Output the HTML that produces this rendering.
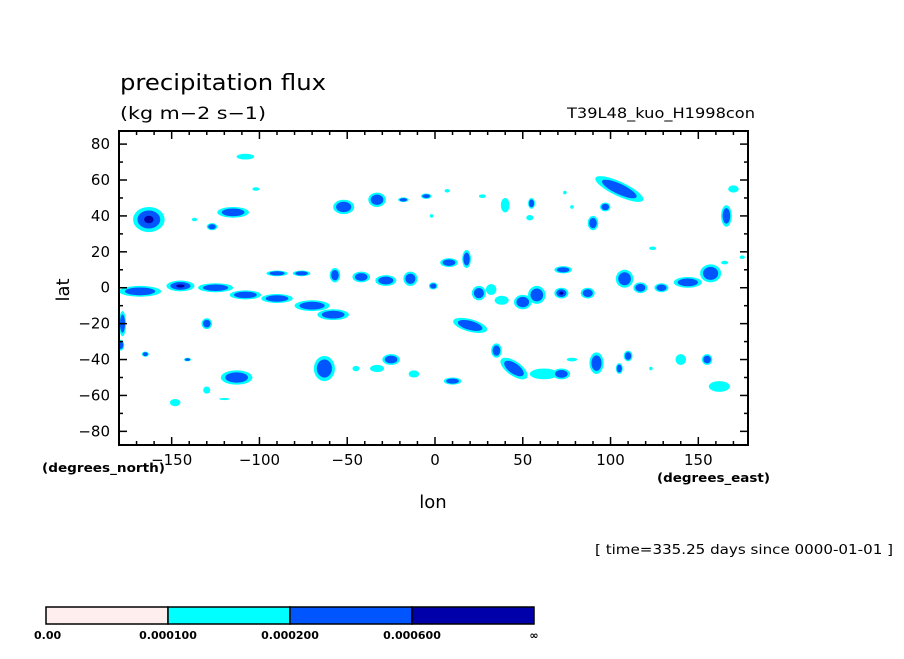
<!DOCTYPE html>
<html><head><meta charset="utf-8"><style>
body{margin:0;background:#fff}
svg text{font-family:"DejaVu Sans","Liberation Sans",sans-serif;fill:#000}
</style></head><body>
<svg id="s" width="904" height="654" viewBox="0 0 904 654" xmlns="http://www.w3.org/2000/svg">
<text x="120" y="90" font-size="22" textLength="206" lengthAdjust="spacingAndGlyphs">precipitation flux</text>
<text x="120" y="119" font-size="17" textLength="146" lengthAdjust="spacingAndGlyphs">(kg m−2 s−1)</text>
<text x="567" y="118" font-size="14" textLength="188" lengthAdjust="spacingAndGlyphs">T39L48_kuo_H1998con</text>
<g id="blobs"></g>
<rect x="119" y="131" width="629" height="314" fill="none" stroke="#000" stroke-width="2"/>
<g id="axes"></g>
<text x="69" y="290" font-size="18" text-anchor="middle" transform="rotate(-90 69 290)">lat</text>
<text x="433" y="508" font-size="18" text-anchor="middle">lon</text>
<text x="42" y="472" font-size="12" font-weight="bold" textLength="123" lengthAdjust="spacingAndGlyphs">(degrees_north)</text>
<text x="657" y="482" font-size="12" font-weight="bold" textLength="113" lengthAdjust="spacingAndGlyphs">(degrees_east)</text>
<text x="595" y="554" font-size="13" textLength="298" lengthAdjust="spacingAndGlyphs">[ time=335.25 days since 0000-01-01 ]</text>
<g id="cbar"></g>
</svg>
<script>
const xTicks=[-150,-100,-50,0,50,100,150];
const yTicks=[80,60,40,20,0,-20,-40,-60,-80];
const levelLabels=["0.00","0.000100","0.000200","0.000600","∞"];
const levelColors=["#ffeeee","#00ffff","#0055ff","#0000aa"];
// blobs: lon, lat, half-width (deg lon), half-height (deg lat), max level, rotation
const blobLon=[-163,-108,-102,-115,-127,-137,-52,-33,-18,-5,-2,7,27,40,55,54,74,78,105,97,90,124,170,166,175,
-168,-145,-125,-108,-90,-70,-58,-90,-76,-57,-42,-28,-14,-1,-178,-130,-179,8,18,25,32,38,50,58,72,87,73,108,117,129,144,157,165,
-165,-141,-113,-63,-45,-25,-33,-12,-148,-130,-120,10,20,35,45,62,72,78,92,110,105,140,155,162,123];
const blobLat=[38,73,55,42,34,38,45,49,49,51,40,54,51,46,47,39,53,45,55,45,36,22,55,40,17,
-2,1,0,-4,-6,-10,-15,8,8,7,6,4,5,1,-20,-20,-32,14,16,-3,-1,-7,-8,-4,-3,-3,10,5,0,0,3,8,14,
-37,-40,-50,-45,-45,-40,-45,-48,-64,-57,-62,-52,-21,-35,-45,-48,-48,-40,-42,-38,-45,-40,-40,-55,-45];
const blobRx=[9,5,2,9,3,1.5,6,5,3,3,1,1.5,2,2.5,2,2,1,1,15,3,3,2,3,3,1.5,
12,8,10,9,9,10,9,6,5,3,5,6,4,2.5,2,3,2,5,2.5,4,3,4,5,5,4,4,5,5,4,4,8,6,2,
2,2,9,6,2,5,4,3,3,2,3,5,10,3,9,8,5,3,4,2.5,2,3,3,6,1];
const blobRy=[7,1.6,1,3,2,1,4,4,1.3,1.5,1,1,1,4,3,1.5,1,1,4,2.5,4,1,2,6,1,
3,3,2.5,2.5,2.5,3,3,1.6,1.6,4,3,3,4,2,7,3,3,2.5,5,4,3,2.5,4,5,3,3,2,5,3,2.5,3,5,1,
1.5,1,4,7,1.5,3,2,2,2,2,0.6,2,3.5,4,4,3,3,1,6,3,3,3,3,3,1];
const blobLvl=[3,1,1,2,2,1,2,2,2,2,1,1,1,1,2,1,1,1,2,2,2,1,1,2,1,
2,3,2,2,2,2,2,2,2,2,2,2,2,2,2,2,2,2,2,2,1,1,2,2,3,2,2,2,2,2,2,2,1,
2,2,2,2,1,2,1,1,1,1,1,2,2,2,2,1,2,1,2,2,2,1,2,1,1];
const blobRot=[0,0,0,0,0,0,0,0,0,0,0,0,0,0,0,0,0,0,25,0,0,0,0,0,0,
0,0,0,0,0,0,0,0,0,0,0,0,0,0,0,0,0,0,0,0,0,0,0,0,0,0,0,0,0,0,0,0,0,
0,0,0,0,0,0,0,0,0,0,0,0,15,0,35,0,0,0,0,0,0,0,0,0,0];
const NS="http://www.w3.org/2000/svg";
const x0=119,x1=748,lonMin=-180,lonMax=178.3,y0=131,y1=445,latMax=87.3,latMin=-87.6;
const sx=v=>x0+(v-lonMin)/(lonMax-lonMin)*(x1-x0);
const sy=v=>y0+(latMax-v)/(latMax-latMin)*(y1-y0);
const kx=(x1-x0)/(lonMax-lonMin), ky=(y1-y0)/(latMax-latMin);
function mk(t,a,p){const e=document.createElementNS(NS,t);for(const k in a)e.setAttribute(k,a[k]);p.appendChild(e);return e;}
const g=document.getElementById('blobs');
const clip=mk('clipPath',{id:'pc'},g);mk('rect',{x:x0,y:y0,width:x1-x0,height:y1-y0},clip);
const gg=mk('g',{'clip-path':'url(#pc)'},g);
const scales=[1,0.72,0.3];
for(let lv=1;lv<=3;lv++){
 for(let i=0;i<blobLon.length;i++){
  if(blobLvl[i]<lv)continue;
  const cx=sx(blobLon[i]),cy=sy(blobLat[i]);
  const e=mk('ellipse',{cx:cx,cy:cy,rx:blobRx[i]*kx*scales[lv-1],ry:blobRy[i]*ky*scales[lv-1],fill:levelColors[lv],transform:`rotate(${blobRot[i]} ${cx} ${cy})`},gg);
  
  
 }
}
const ax=document.getElementById('axes');
for(let v=-170;v<=170;v+=10){const X=sx(v),big=v%50===0;
 mk('line',{x1:X,x2:X,y1:y1,y2:y1-(big?8:4),stroke:'#000','stroke-width':1.5},ax);
 mk('line',{x1:X,x2:X,y1:y0,y2:y0+(big?8:4),stroke:'#000','stroke-width':1.5},ax);}
for(let v=-80;v<=80;v+=10){const Y=sy(v),big=v%20===0;
 mk('line',{x1:x0,x2:x0+(big?8:4),y1:Y,y2:Y,stroke:'#000','stroke-width':1.5},ax);
 mk('line',{x1:x1,x2:x1-(big?8:4),y1:Y,y2:Y,stroke:'#000','stroke-width':1.5},ax);}
xTicks.forEach(v=>{const t=mk('text',{x:sx(v),y:465,'font-size':15,'text-anchor':'middle'},ax);t.textContent=v<0?'−'+(-v):v;
 
 });
yTicks.forEach(v=>{const t=mk('text',{x:110,y:sy(v)+5,'font-size':15,'text-anchor':'end'},ax);t.textContent=v<0?'−'+(-v):v;
 
 });
const cb=document.getElementById('cbar');
const cbx=46,cbw=122;
levelColors.forEach((c,i)=>{const r=mk('rect',{x:cbx+i*cbw,y:607,width:cbw,height:17,fill:c,stroke:'#000','stroke-width':1.5},cb);
 
 });
levelLabels.forEach((l,i)=>{const t=mk('text',{x:cbx+i*cbw,y:639,'font-size':11,'font-weight':'bold','text-anchor':i===0?'start':'middle'},cb);t.textContent=l;
 if(i===0)t.setAttribute('x',34);
 
 });
</script>
</body></html>
